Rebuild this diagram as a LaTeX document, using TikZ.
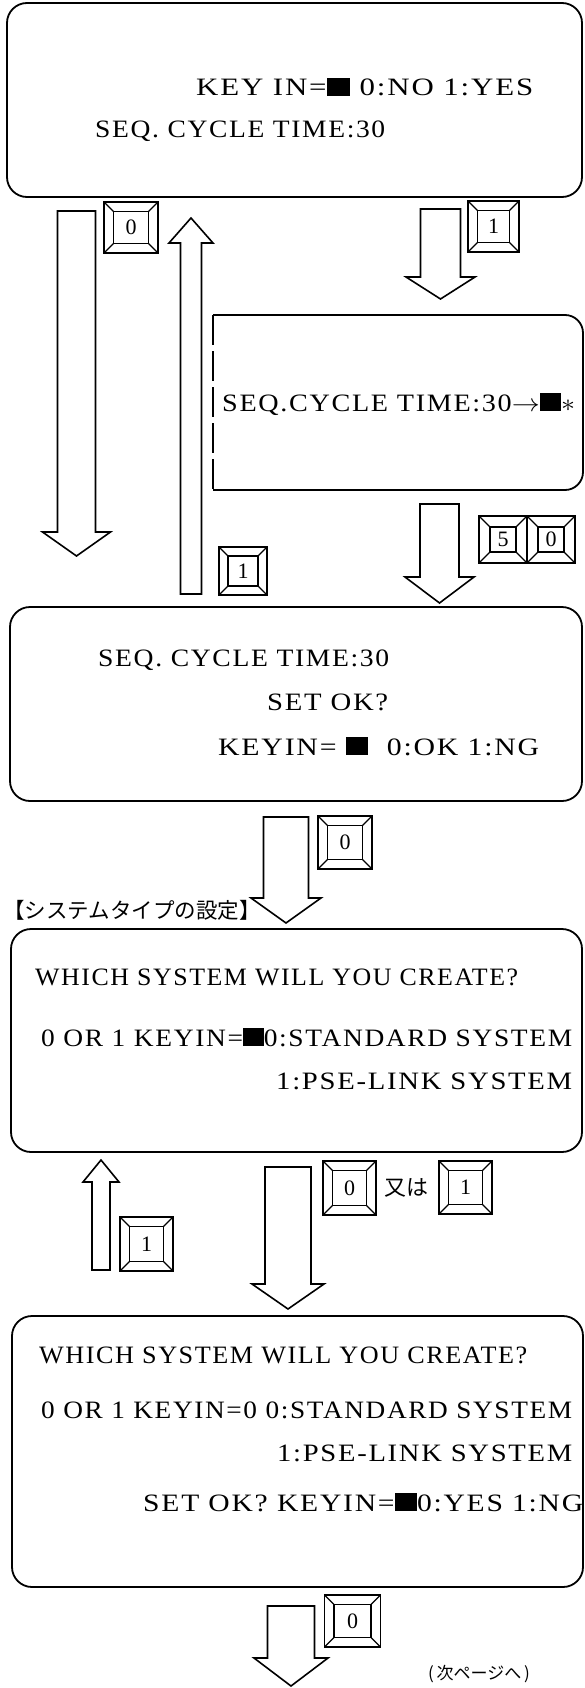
\documentclass[tikz,border=0pt]{standalone}
\usepackage{fontspec}
\usepackage{graphicx}
\usetikzlibrary{calc}
\newfontfamily\lcdfont[LetterSpace=6]{Liberation Serif}
\newfontfamily\keyserif{Liberation Serif}
\newfontfamily\jpfont{Noto Sans CJK JP}
% solid cursor block
\newcommand\blk{\rule{19pt}{18pt}}
% one screen line, stretched to a given width
\newcommand\lcd[2]{\resizebox{#1pt}{\height}{\fontsize{25}{25}\lcdfont #2}}
% block arrow: centre x, shaft half width, head half width, tail y, head base y, tip y
\newcommand\blockarrow[6]{\draw[blockarrow] ({#1-#2},-#4) -- ({#1+#2},-#4) -- ({#1+#2},-#5) -- ({#1+#3},-#5) -- (#1,-#6) -- ({#1-#3},-#5) -- ({#1-#2},-#5) -- cycle;}
\begin{document}
\begin{tikzpicture}[x=1pt,y=1pt,
  screen/.style={draw, line width=1.8pt, rounded corners=20pt, inner sep=0pt},
  lcdline/.style={anchor=base west, inner sep=0pt},
  keycap/.style={draw, line width=1.6pt, inner sep=0pt,
    font=\fontsize{22}{22}\keyserif,
    path picture={
      \draw[line width=1.4pt]
        ($(path picture bounding box.south west)+(#1pt,#1pt)$) rectangle
        ($(path picture bounding box.north east)+(-#1pt,-#1pt)$);
      \draw[line width=1.2pt]
        (path picture bounding box.south west) -- ++(#1pt,#1pt)
        (path picture bounding box.south east) -- ++(-#1pt,#1pt)
        (path picture bounding box.north west) -- ++(#1pt,-#1pt)
        (path picture bounding box.north east) -- ++(-#1pt,-#1pt);
    }},
  keycap/.default=9.5,
  blockarrow/.style={draw, line width=1.6pt, line join=miter, fill=white},
  jp/.style={inner sep=0pt}
]
\useasboundingbox (0,0) rectangle (584,-1688);

% ---------- screens ----------
\node[screen, minimum width=575pt, minimum height=194pt] (s1) at (294.5,-100) {};
\node[screen, minimum width=572pt, minimum height=194pt] (s3) at (296,-704) {};
\node[screen, minimum width=571pt, minimum height=223pt] (s4) at (296.5,-1040.5) {};
\node[screen, minimum width=571pt, minimum height=271pt] (s5) at (297.5,-1451.5) {};

% edit screen: open dashed left side
\coordinate (s2tl) at (213,-315);
\coordinate (s2bl) at (213,-490);
\draw[line width=1.8pt, rounded corners=18pt] (s2tl) -- (583,-315) -- (583,-490) -- (s2bl);
\draw[line width=1.8pt, dash pattern=on 30pt off 6pt] (s2tl) -- (s2bl);

% ---------- screen texts ----------
\node[lcdline] (t1)  at (196,-96)   {\lcd{337}{KEY IN=\blk\ 0:NO 1:YES}};
\node[lcdline] (t2)  at (95,-138)   {\lcd{290}{SEQ. CYCLE TIME:30}};
\node[lcdline] (t3)  at (222,-411)  {\lcd{353}{SEQ.CYCLE TIME:30$\rightarrow$\blk$\ast$}};
\node[lcdline] (t4)  at (98,-666)   {\lcd{291}{SEQ. CYCLE TIME:30}};
\node[lcdline] (t5)  at (267,-710)  {\lcd{121}{SET OK?}};
\node[lcdline] (t6)  at (218,-755)  {\lcd{321}{KEYIN= \blk\ \ 0:OK 1:NG}};
\node[lcdline] (t7)  at (35,-985)   {\lcd{483}{WHICH SYSTEM WILL YOU CREATE?}};
\node[lcdline] (t8)  at (41,-1046)  {\lcd{531}{0 OR 1 KEYIN=\blk0:STANDARD SYSTEM}};
\node[lcdline] (t9)  at (276,-1089) {\lcd{296}{1:PSE-LINK SYSTEM}};
\node[lcdline] (t10) at (39,-1363)  {\lcd{488}{WHICH SYSTEM WILL YOU CREATE?}};
\node[lcdline] (t11) at (41,-1418)  {\lcd{531}{0 OR 1 KEYIN=0 0:STANDARD SYSTEM}};
\node[lcdline] (t12) at (277,-1461) {\lcd{295}{1:PSE-LINK SYSTEM}};
\node[lcdline] (t13) at (143,-1511) {\lcd{440}{SET OK? KEYIN=\blk0:YES 1:NG}};

% ---------- block arrows ----------
\blockarrow{76.5}{19}{34}{211}{532}{556}
\blockarrow{191}{10.5}{22}{594}{243}{218}
\blockarrow{440.5}{20}{34.5}{209}{277}{299}
\blockarrow{439.5}{19.5}{34.5}{504}{577}{603}
\blockarrow{286}{22.5}{35}{817}{898}{923}
\blockarrow{101}{9}{18}{1270}{1182}{1160}
\blockarrow{288}{23}{36}{1167}{1284}{1309}
\blockarrow{291}{23.5}{37}{1606}{1658}{1686}

% ---------- keys ----------
\node[keycap, minimum width=54pt, minimum height=51pt] (k1) at (131,-227.5) {0};
\node[keycap, minimum width=51pt, minimum height=51pt] (k2) at (493.5,-226.5) {1};
\node[keycap=9, minimum width=48pt, minimum height=48pt] (k3) at (243,-571) {1};
\node[keycap=11, minimum width=48pt, minimum height=47pt] (k4) at (503,-539.5) {5};
\node[keycap=11, minimum width=48pt, minimum height=47pt] (k5) at (551,-539.5) {0};
\node[keycap, minimum width=54pt, minimum height=53pt] (k6) at (345,-842.5) {0};
\node[keycap, minimum width=53pt, minimum height=54pt] (k7) at (146.5,-1244) {1};
\node[keycap, minimum width=53pt, minimum height=54pt] (k8) at (349.5,-1188) {0};
\node[keycap, minimum width=53pt, minimum height=53pt] (k9) at (465.5,-1187.5) {1};
\node[keycap, minimum width=56pt, minimum height=52pt] (k10) at (352.5,-1621) {0};

% ---------- Japanese labels ----------
\node[jp, anchor=west, font=\fontsize{21.5}{21.5}\jpfont] (sect) at (3,-910) {【システムタイプの設定】};
\node[jp, font=\fontsize{22}{22}\jpfont] (either) at (406,-1188) {又は};
\node[jp, font=\fontsize{17}{17}\jpfont] (next) at (479,-1674) {(\,次ページへ\,)};
\end{tikzpicture}
\end{document}
